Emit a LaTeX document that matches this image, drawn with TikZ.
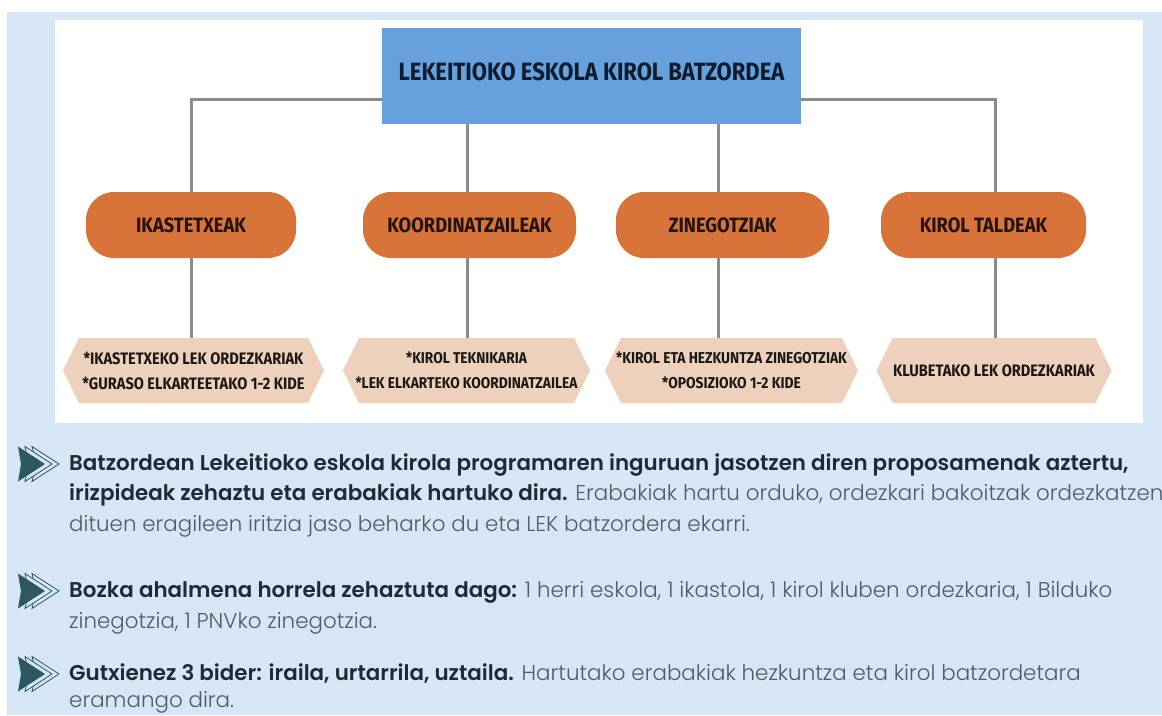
\documentclass[tikz,border=0pt]{standalone}
\usepackage{fontspec}
\newfontfamily\boxfont{Fira Sans Bold}[FakeStretch=0.88]
\newfontfamily\bodyfont{Poppins Light}
\newfontfamily\bodybold{Poppins SemiBold}
\definecolor{bgblue}{HTML}{D6E6F4}
\definecolor{panel}{HTML}{FFFFFD}
\definecolor{titleblue}{HTML}{66A0DD}
\definecolor{orangebox}{HTML}{D8733A}
\definecolor{peach}{HTML}{EDD1BD}
\definecolor{linegray}{HTML}{8C8C8C}
\definecolor{textdark}{HTML}{1F2A36}
\definecolor{textgray}{HTML}{515B66}
\definecolor{arrowteal}{HTML}{2E5764}
\definecolor{titletext}{HTML}{0E1B2C}
\definecolor{pilltext}{HTML}{22140C}
\definecolor{hextext}{HTML}{1C1714}
\newcommand\hexat[6]{% name, cx, cy, w, fontsize, text
  \fill[peach] (#2-#4/2,#3) -- (#2-#4/2+16,#3-32.5) -- (#2+#4/2-16,#3-32.5)
    -- (#2+#4/2,#3) -- (#2+#4/2-16,#3+32.5) -- (#2-#4/2+16,#3+32.5) -- cycle;
  \node[hexlabel, minimum width=#4-32, font=\boxfont\fontsize{#5}{25}\selectfont] (#1) at (#2,#3) {#6};}
\newcommand\bulletarrow[3]{% name, x, y
  \foreach \dx in {14,7}{
    \draw[arrowteal, line width=0.8pt, fill=bgblue] (#2+\dx,#3-17.5) -- (#2+\dx+27,#3) -- (#2+\dx,#3+17.5) -- (#2+\dx+4,#3) -- cycle;}
  \fill[arrowteal] (#2,#3-17.5) -- (#2+27,#3) -- (#2,#3+17.5) -- (#2+3,#3) -- cycle;
  \coordinate (#1) at (#2,#3);}
\begin{document}
\begin{tikzpicture}[x=1pt,y=-1pt,
  conn/.style={draw=linegray, line width=3pt},
  titlebox/.style={fill=titleblue, minimum width=419, minimum height=96, inner sep=0},
  pill/.style={fill=orangebox, rounded corners=28, minimum height=66, inner sep=0,
    text=pilltext, font=\boxfont\fontsize{20.8}{24}\selectfont},
  hexlabel/.style={minimum height=65, inner sep=0, align=center, text=hextext},
  bodyline/.style={anchor=base west, inner sep=0, text=textgray,
    font=\bodyfont\fontsize{21.4}{30}\selectfont},
]
\useasboundingbox (0,0) rectangle (1162,715);
\fill[white] (0,0) rectangle (1162,715);
\fill[bgblue] (7,12) rectangle (1162,715);
\fill[panel] (55,20) rectangle (1143,423);

% title
\node[titlebox] (top) at (591.5,76) {};
\node[text=titletext, font=\boxfont\fontsize{25}{28}\selectfont, inner sep=0] (toptext) at (591.5,72) {LEKEITIOKO ESKOLA KIROL BATZORDEA};

% columns
\coordinate (c1) at (191,0);
\coordinate (c2) at (467,0);
\coordinate (c3) at (718,0);
\coordinate (c4) at (995,0);

% pills
\node[pill, minimum width=210] (p1) at (191,225) {IKASTETXEAK};
\node[pill, minimum width=213] (p2) at (469.5,225) {KOORDINATZAILEAK};
\node[pill, minimum width=213] (p3) at (722.5,225) {ZINEGOTZIAK};
\node[pill, minimum width=205] (p4) at (983.5,225) {KIROL TALDEAK};

% hexagons
\hexat{h1}{193.5}{370.5}{261}{16.6}{*IKASTETXEKO LEK ORDEZKARIAK\\*GURASO ELKARTEETAKO 1-2 KIDE}
\hexat{h2}{466.5}{370.5}{247}{15.6}{*KIROL TEKNIKARIA\\*LEK ELKARTEKO KOORDINATZAILEA}
\hexat{h3}{731.5}{370.5}{253}{15.7}{*KIROL ETA HEZKUNTZA ZINEGOTZIAK\\*OPOSIZIOKO 1-2 KIDE}
\hexat{h4}{994}{370.5}{235}{16.6}{KLUBETAKO LEK ORDEZKARIAK}

% connectors
\draw[conn] (top.west |- 0,99) -| (c1 |- p1.north);
\draw[conn] (c2 |- top.south) -- (c2 |- p2.north);
\draw[conn] (c3 |- top.south) -- (c3 |- p3.north);
\draw[conn] (top.east |- 0,99) -| (c4 |- p4.north);
\draw[conn] (c1 |- p1.south) -- (c1 |- h1.north);
\draw[conn] (c2 |- p2.south) -- (c2 |- h2.north);
\draw[conn] (c3 |- p3.south) -- (c3 |- h3.north);
\draw[conn] (c4 |- p4.south) -- (c4 |- h4.north);

% bullets
\bulletarrow{b1}{18}{464}
\bulletarrow{b2}{18}{591}
\bulletarrow{b3}{18}{674}

\node[bodyline] (t11) at (69,470) {{\bodybold\color{textdark}Batzordean Lekeitioko eskola kirola programaren inguruan jasotzen diren proposamenak aztertu,}};
\node[bodyline] (t12) at (69,500) {{\bodybold\color{textdark}irizpideak zehaztu eta erabakiak hartuko dira.} Erabakiak hartu orduko, ordezkari bakoitzak ordezkatzen};
\node[bodyline] (t13) at (69,531) {dituen eragileen iritzia jaso beharko du eta LEK batzordera ekarri.};
\node[bodyline] (t21) at (69,597) {{\bodybold\color{textdark}Bozka ahalmena horrela zehaztuta dago:} 1 herri eskola, 1 ikastola, 1 kirol kluben ordezkaria, 1 Bilduko};
\node[bodyline] (t22) at (69,628) {zinegotzia, 1 PNVko zinegotzia.};
\node[bodyline] (t31) at (69,680) {{\bodybold\color{textdark}Gutxienez 3 bider: iraila, urtarrila, uztaila.} Hartutako erabakiak hezkuntza eta kirol batzordetara};
\node[bodyline] (t32) at (69,707) {eramango dira.};
\end{tikzpicture}
\end{document}
